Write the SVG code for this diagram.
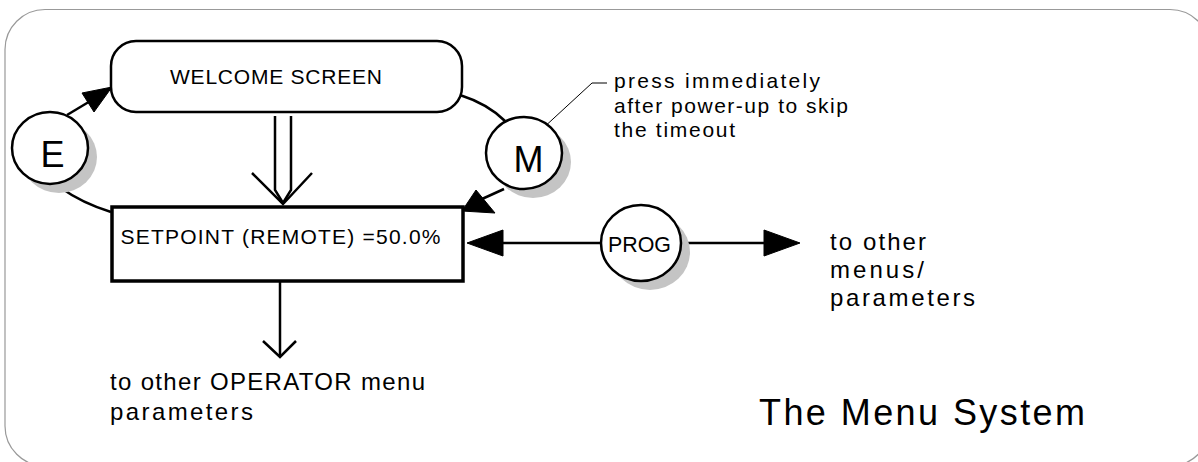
<svg xmlns="http://www.w3.org/2000/svg" width="1198" height="462" viewBox="0 0 1198 462">
<style>
text{font-family:"Liberation Sans",Arial,sans-serif;fill:#000}
.ln{fill:none;stroke:#000;stroke-width:2.5}
.thin{fill:none;stroke:#000;stroke-width:1}
.ah{fill:#000;stroke:#000;stroke-width:1}
.node{fill:#fff;stroke:#000;stroke-width:2.5}
.shadow{fill:#c4c4c4}
.lbl{font-size:24px}
.note{font-size:21px}
</style>
<rect x="5" y="9.5" width="1205" height="456.5" rx="40" ry="40" fill="#fff" stroke="#999" stroke-width="1.2"/>
<g id="connectors">
  <path class="ln" d="M67,115 L92,100"/>
  <polygon class="ah" points="112,87 94,112 82,93"/>
  <path class="ln" d="M460,95 Q488,104 505,121"/>
  <path class="ln" d="M504,189 L482,199"/>
  <polygon class="ah" points="462,211 476,190 495,213"/>
  <path class="ln" d="M111,212 Q82,203 61,188"/>
  <path class="ln" d="M275,116 V190 L283,203 M291,116 V190 L283,203"/>
  <path class="ln" d="M252,173 L283,204 L312,173"/>
  <path class="ln" d="M280,282 V356"/>
  <path class="ln" d="M263,341 L280,357 L296,341"/>
  <path class="ln" d="M600,243 H500"/>
  <polygon class="ah" points="467,243 503,230 503,256"/>
  <path class="ln" d="M682,243 H765"/>
  <polygon class="ah" points="800,243 764,230 764,256"/>
  <path class="thin" d="M541,130 L592,83 H607"/>
  <circle cx="541" cy="130" r="2.5" fill="#000"/>
</g>
<g id="welcome">
  <rect class="node" x="111" y="41" width="351" height="71" rx="25" ry="25"/>
  <text x="170" y="83.5" font-size="21" textLength="212" lengthAdjust="spacing">WELCOME SCREEN</text>
</g>
<g id="setpoint">
  <rect x="112" y="207" width="351" height="74" fill="#fff" stroke="#000" stroke-width="3.5"/>
  <text x="120.5" y="243.5" font-size="21" textLength="320" lengthAdjust="spacing">SETPOINT (REMOTE) =50.0%</text>
</g>
<g id="key-e">
  <ellipse class="shadow" cx="59" cy="157" rx="38" ry="36"/>
  <ellipse class="node" cx="50" cy="148" rx="38" ry="36"/>
  <text x="52.5" y="167" font-size="36" text-anchor="middle">E</text>
</g>
<g id="key-m">
  <ellipse class="shadow" cx="533" cy="162" rx="38" ry="36"/>
  <ellipse class="node" cx="524" cy="153" rx="38" ry="36"/>
  <text x="528.5" y="172" font-size="36" text-anchor="middle">M</text>
</g>
<g id="key-prog">
  <ellipse class="shadow" cx="650" cy="252" rx="40" ry="38"/>
  <ellipse class="node" cx="641" cy="243" rx="40" ry="38"/>
  <text x="608" y="251.5" font-size="22" textLength="63" lengthAdjust="spacingAndGlyphs">PROG</text>
</g>
<g id="callout">
  <text class="note" x="614" y="88" textLength="206" lengthAdjust="spacing">press immediately</text>
  <text class="note" x="614" y="112.5" textLength="234" lengthAdjust="spacing">after power-up to skip</text>
  <text class="note" x="614" y="137" textLength="121" lengthAdjust="spacing">the timeout</text>
</g>
<g id="label-menus">
  <text class="lbl" x="830" y="250" textLength="96" lengthAdjust="spacing">to other</text>
  <text class="lbl" x="830" y="278" textLength="94" lengthAdjust="spacing">menus/</text>
  <text class="lbl" x="830" y="306" textLength="145" lengthAdjust="spacing">parameters</text>
</g>
<g id="label-operator">
  <text class="lbl" x="110" y="390" textLength="315" lengthAdjust="spacing">to other OPERATOR menu</text>
  <text class="lbl" x="110" y="420" textLength="143" lengthAdjust="spacing">parameters</text>
</g>
<g id="title">
  <text x="759" y="425" font-size="36" textLength="326" lengthAdjust="spacing">The Menu System</text>
</g>
</svg>
